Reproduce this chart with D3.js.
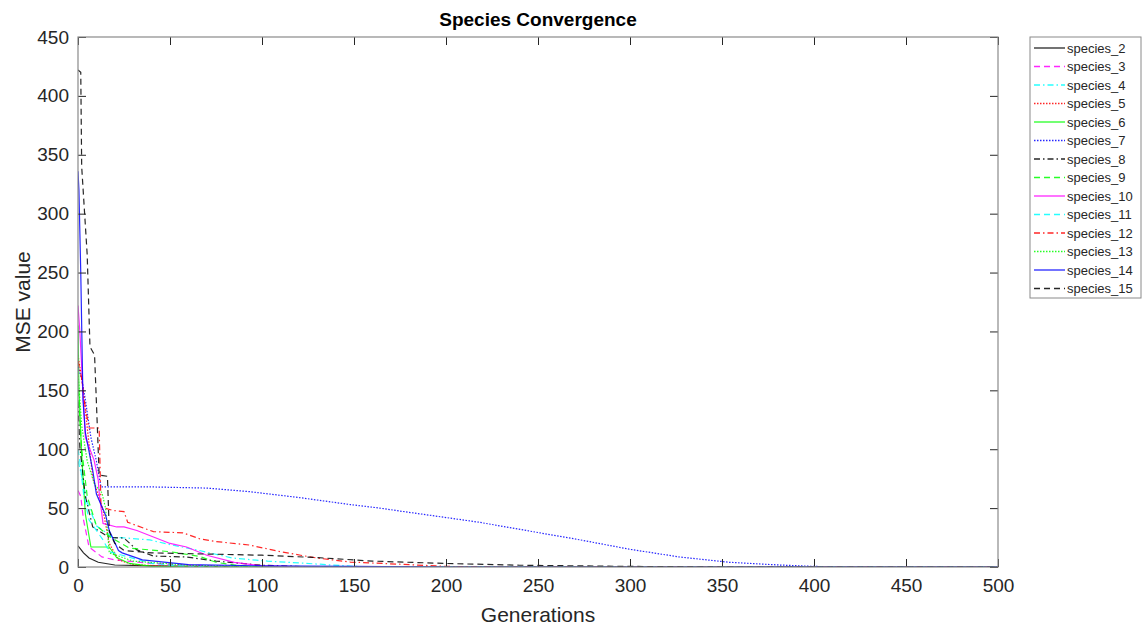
<!DOCTYPE html>
<html>
<head>
<meta charset="utf-8">
<script src="https://cdn.jsdelivr.net/npm/d3@7"></script>
<style>
  body { margin: 0; background: #fff; }
  text { font-family: "Liberation Sans", Arial, sans-serif; fill: #262626; }
</style>
</head>
<body>
<script>
// series names and their [generation, MSE] vertices
const seriesNames = ['species_2', 'species_3', 'species_4', 'species_5', 'species_6', 'species_7', 'species_8',
  'species_9', 'species_10', 'species_11', 'species_12', 'species_13', 'species_14', 'species_15'];

const s2 = [[0, 18], [3, 12], [6, 7.6], [11, 4], [20, 1.7], [40, 1], [80, 0.3], [120, 0], [500, 0]];
const s3 = [[0, 65], [1.5, 60], [3, 40], [6, 17], [13, 8.6], [20, 6], [40, 3], [70, 1], [100, 0], [500, 0]];
const s4 = [[0, 90], [1.5, 81], [5, 55], [10, 35], [19, 25], [23, 25], [39, 23], [50, 19], [66, 14], [84, 7.6], [103, 5], [121, 3.4], [150, 0.5], [170, 0], [500, 0]];
const s5 = [[0, 180], [2, 160], [4, 133], [8, 76], [13.6, 48], [17, 20], [22, 6], [30, 2], [50, 0.5], [80, 0], [500, 0]];
const s6 = [[0, 205], [0.5, 150], [2, 95], [4, 45], [7, 17], [17, 17], [21, 8], [28, 3], [40, 0.5], [80, 0], [500, 0]];
const s7 = [[0, 170], [2, 160], [4, 142], [7, 110], [10, 90], [12.5, 68], [40, 68], [70, 67], [93, 64], [120, 59], [148, 53], [164, 50], [175, 47.5], [200, 42], [218, 38], [251, 29], [273, 23], [300, 15], [327, 8.5], [354, 4], [381, 1.7], [400, 0.5], [420, 0], [500, 0]];
const s8 = [[0, 140], [1, 102], [4, 60], [8, 34], [17, 25], [25, 24.6], [32, 14.5], [41, 9.3], [59, 8.5], [75, 5], [100, 1.5], [130, 0], [500, 0]];
const s9 = [[0, 150], [2, 100], [5, 60], [10, 35], [18, 25], [28, 16], [50, 13], [66, 9], [75, 4], [90, 0.5], [110, 0], [500, 0]];
const s10 = [[0, 222], [1, 200], [4, 110], [8.7, 91], [11, 74], [11.5, 63], [13.6, 37], [21, 34], [25, 34], [32, 31], [41, 25.5], [50, 20], [59, 17], [70, 10], [85, 4], [100, 1], [130, 0], [500, 0]];
const s11 = [[0, 100], [1, 90], [3, 63], [6, 40], [13.6, 23], [17, 13], [24, 10], [40, 3], [60, 0.5], [80, 0], [500, 0]];
const s12 = [[0, 175], [2, 160], [4, 135], [6, 118], [11.5, 118], [12.5, 51], [19, 48], [25, 47], [27, 38], [41, 30], [57, 29], [66, 24], [75, 21.6], [93, 18.7], [111, 12.7], [121, 10], [130, 7.6], [148, 4.2], [166, 3], [200, 0.5], [230, 0], [500, 0]];
const s13 = [[0, 165], [2, 120], [5, 90], [9, 70], [13, 63], [15, 50], [17, 12], [30, 5], [60, 1.5], [100, 0], [500, 0]];
const s14 = [[0, 336], [0.5, 320], [1.5, 250], [2.7, 142], [4, 114], [8, 82], [10, 62], [15, 44], [17, 31], [22, 14], [24, 12], [35, 6], [60, 2], [100, 1], [150, 0.5], [200, 0], [500, 0]];
const s15 = [[0, 422], [1.5, 420], [2, 340], [5, 265], [6.5, 187], [9, 180], [10, 140], [11.5, 78], [16, 77], [17, 30], [20, 20], [25, 14], [40, 12], [70, 11], [100, 10], [130, 8], [160, 5], [200, 3], [240, 1.5], [300, 0.5], [350, 0], [500, 0]];

const seriesData = [s2, s3, s4, s5, s6, s7, s8, s9, s10, s11, s12, s13, s14, s15];

const xTicks = [0, 50, 100, 150, 200, 250, 300, 350, 400, 450, 500];
const yTicks = [0, 50, 100, 150, 200, 250, 300, 350, 400, 450];

// MATLAB-ish line specs: colour + style
const colors = ['#000000', '#ff00ff', '#00ffff', '#ff0000', '#00ff00', '#0000ff', '#000000',
  '#00ff00', '#ff00ff', '#00ffff', '#ff0000', '#00ff00', '#0000ff', '#000000'];
const styles = ['solid', 'dashed', 'dashdot', 'dotted', 'solid', 'dotted', 'dashdot',
  'dashed', 'solid', 'dashed', 'dashdot', 'dotted', 'solid', 'dashed'];
const dashes = { solid: null, dashed: '6,4', dotted: '1.5,1.5', dashdot: '6,3,1.5,3' };

const W = 1148, H = 628;
const m = { left: 78, right: 150, top: 37, bottom: 61 };
const iw = W - m.left - m.right, ih = H - m.top - m.bottom;

const svg = d3.select('body').append('svg')
  .attr('width', W)
  .attr('height', H);

const x = d3.scaleLinear().domain([0, 500]).range([0, iw]);
const y = d3.scaleLinear().domain([0, 450]).range([ih, 0]);

const g = svg.append('g').attr('transform', `translate(${m.left},${m.top})`);

g.append('clipPath').attr('id', 'clip')
  .append('rect').attr('width', iw).attr('height', ih);

const line = d3.line().x(d => x(d[0])).y(d => y(d[1]));

g.append('g').attr('clip-path', 'url(#clip)')
  .selectAll('path')
  .data(seriesData)
  .enter()
  .append('path')
  .attr('d', line)
  .attr('fill', 'none')
  .attr('stroke', (d, i) => colors[i])
  .attr('stroke-width', 1.2)
  .attr('stroke-opacity', 0.85)
  .attr('stroke-dasharray', (d, i) => dashes[styles[i]]);

// axes, ticks pointing inward and mirrored on top/right
const axisStyle = sel => {
  sel.select('.domain').remove();
  sel.selectAll('line').attr('stroke', '#262626');
  sel.selectAll('text').style('font-size', '19px').style('fill', '#262626');
};

g.append('g').attr('transform', `translate(0,${ih})`)
  .call(d3.axisBottom(x).tickValues(xTicks).tickSizeInner(-8).tickSizeOuter(0).tickPadding(12))
  .call(axisStyle)
  .selectAll('text').attr('dy', '0.71em');

g.append('g')
  .call(d3.axisLeft(y).tickValues(yTicks).tickSizeInner(-8).tickSizeOuter(0).tickPadding(9))
  .call(axisStyle);

g.append('g')
  .call(d3.axisTop(x).tickValues(xTicks).tickSizeInner(-8).tickSizeOuter(0).tickFormat(''))
  .call(axisStyle);

g.append('g').attr('transform', `translate(${iw},0)`)
  .call(d3.axisRight(y).tickValues(yTicks).tickSizeInner(-8).tickSizeOuter(0).tickFormat(''))
  .call(axisStyle);

g.append('rect')
  .attr('width', iw).attr('height', ih)
  .attr('fill', 'none')
  .attr('stroke', '#8a8a8a')
  .attr('stroke-width', 1.2);

// titles
svg.append('text')
  .attr('x', m.left + iw / 2).attr('y', 26)
  .attr('text-anchor', 'middle')
  .style('font-size', '19px').style('font-weight', 'bold')
  .style('fill', '#000')
  .text('Species Convergence');

svg.append('text')
  .attr('x', m.left + iw / 2).attr('y', 622)
  .attr('text-anchor', 'middle')
  .style('font-size', '21px')
  .text('Generations');

svg.append('text')
  .attr('transform', `translate(30,${m.top + ih / 2}) rotate(-90)`)
  .attr('text-anchor', 'middle')
  .style('font-size', '21px')
  .text('MSE value');

// legend
const lg = svg.append('g').attr('transform', 'translate(1030,37)');
const rowH = 18.5;
lg.append('rect')
  .attr('width', 111).attr('height', seriesNames.length * rowH + 2)
  .attr('fill', '#fff')
  .attr('stroke', '#8a8a8a')
  .attr('stroke-width', 1);

const rows = lg.selectAll('.row')
  .data(seriesNames)
  .enter()
  .append('g')
  .attr('transform', (d, i) => `translate(0,${11 + i * rowH})`);

rows.append('line')
  .attr('x1', 4).attr('x2', 35)
  .attr('stroke', (d, i) => colors[i])
  .attr('stroke-width', 1.3)
  .attr('stroke-opacity', 0.85)
  .attr('stroke-dasharray', (d, i) => dashes[styles[i]]);

rows.append('text')
  .attr('x', 37).attr('dy', '0.35em')
  .style('font-size', '13px')
  .text(d => d);
</script>
</body>
</html>
